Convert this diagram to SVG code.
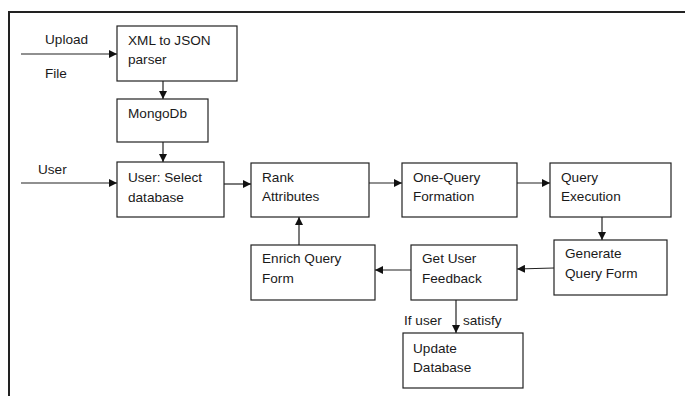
<svg xmlns="http://www.w3.org/2000/svg" width="685" height="396" viewBox="0 0 685 396">
<style>
.box{fill:#fff;stroke:#222;stroke-width:1.2}
.t{font-family:"Liberation Sans",Arial,sans-serif;font-size:13.6px;fill:#1a1a1a}
.c{stroke:#222;stroke-width:1.2;fill:none;marker-end:url(#ah)}
</style>
<defs>
<marker id="ah" viewBox="0 0 10 10" refX="10" refY="5" markerWidth="8" markerHeight="8" markerUnits="userSpaceOnUse" orient="auto">
<path d="M0,0 L10,5 L0,10 z" fill="#111"/>
</marker>
</defs>
<rect width="685" height="396" fill="#fff"/>
<g id="frame">
<path d="M9,396 L9,12 L685,12" fill="none" stroke="#222" stroke-width="2"/>
</g>
<g id="connectors">
<line class="c" x1="21" y1="54" x2="117" y2="54"/>
<line class="c" x1="163" y1="81" x2="163" y2="99"/>
<line class="c" x1="163" y1="142" x2="163" y2="162"/>
<line class="c" x1="21" y1="183" x2="117" y2="183"/>
<line class="c" x1="224" y1="184" x2="251" y2="184"/>
<line class="c" x1="369" y1="183" x2="402" y2="183"/>
<line class="c" x1="517" y1="183" x2="550" y2="183"/>
<line class="c" x1="602" y1="217" x2="602" y2="240"/>
<line class="c" x1="554" y1="268" x2="517" y2="269"/>
<line class="c" x1="411" y1="270" x2="375" y2="270"/>
<line class="c" x1="299" y1="245" x2="299" y2="217"/>
<line class="c" x1="456" y1="300" x2="456" y2="333"/>
<text class="t" x="45" y="44">Upload</text>
<text class="t" x="45" y="78">File</text>
<text class="t" x="38" y="174">User</text>
<text class="t" x="404" y="325">If user</text>
<text class="t" x="463" y="325">satisfy</text>
</g>
<g id="xml">
<rect class="box" x="117" y="26" width="120" height="55"/>
<text class="t" x="128" y="45">XML to JSON</text>
<text class="t" x="128" y="64">parser</text>
</g>
<g id="mongo">
<rect class="box" x="117" y="99" width="91" height="43"/>
<text class="t" x="128" y="118">MongoDb</text>
</g>
<g id="select">
<rect class="box" x="117" y="162" width="107" height="55"/>
<text class="t" x="128" y="182">User: Select</text>
<text class="t" x="128" y="202">database</text>
</g>
<g id="rank">
<rect class="box" x="251" y="163" width="118" height="54"/>
<text class="t" x="262" y="182">Rank</text>
<text class="t" x="262" y="201">Attributes</text>
</g>
<g id="onequery">
<rect class="box" x="402" y="163" width="115" height="54"/>
<text class="t" x="413" y="182">One-Query</text>
<text class="t" x="413" y="201">Formation</text>
</g>
<g id="exec">
<rect class="box" x="550" y="163" width="121" height="54"/>
<text class="t" x="561" y="182">Query</text>
<text class="t" x="561" y="201">Execution</text>
</g>
<g id="generate">
<rect class="box" x="554" y="240" width="113" height="55"/>
<text class="t" x="565" y="258">Generate</text>
<text class="t" x="565" y="278">Query Form</text>
</g>
<g id="feedback">
<rect class="box" x="411" y="245" width="106" height="55"/>
<text class="t" x="422" y="263">Get User</text>
<text class="t" x="422" y="283">Feedback</text>
</g>
<g id="enrich">
<rect class="box" x="251" y="245" width="124" height="55"/>
<text class="t" x="262" y="263">Enrich Query</text>
<text class="t" x="262" y="283">Form</text>
</g>
<g id="update">
<rect class="box" x="403" y="333" width="120" height="55"/>
<text class="t" x="413" y="353">Update</text>
<text class="t" x="413" y="372">Database</text>
</g>
</svg>
